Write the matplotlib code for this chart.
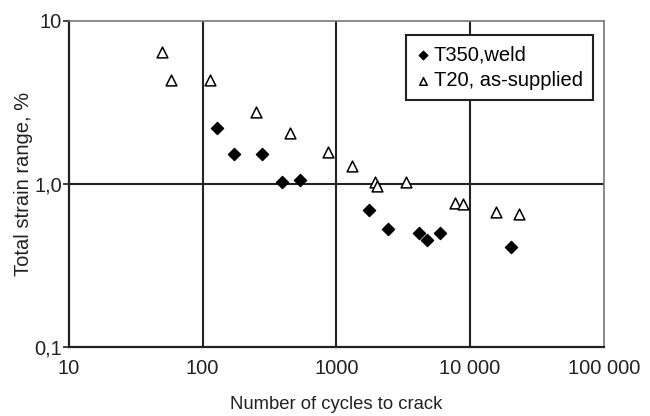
import numpy as np
import matplotlib
matplotlib.use("Agg")
import matplotlib.pyplot as plt
from matplotlib.ticker import FixedLocator, NullLocator

plt.rcParams['font.family'] = ['Liberation Sans', 'DejaVu Sans']

# T350, weld (filled diamonds)
weld_n = [128, 172, 279, 392, 531, 1760, 2440, 4150, 4790, 5960, 20100]
weld_e = [2.21, 1.52, 1.52, 1.03, 1.05, 0.69, 0.53, 0.50, 0.45, 0.50, 0.41]

# T20, as-supplied (open triangles)
sup_n = [49.6, 58, 113, 249, 448, 861, 1315, 1950, 2000, 3310, 7710, 8850, 15500, 23200]
sup_e = [6.4, 4.33, 4.33, 2.77, 2.04, 1.57, 1.29, 1.02, 0.97, 1.02, 0.76, 0.75, 0.67, 0.65]

xticks = [10, 100, 1000, 10000, 100000]
xlabels = ['10', '100', '1000', '10 000', '100 000']
yticks = [0.1, 1.0, 10]
ylabels = ['0,1', '1,0', '10']

fig = plt.figure(figsize=(6.5, 4.16), dpi=100)
ax = fig.add_axes([0.106, 0.167, 0.823, 0.783])

ax.set_xscale('log')
ax.set_yscale('log')
ax.set_xlim(10, 100000)
ax.set_ylim(0.1, 10)

# grid lines at each decade
for xv in xticks[1:-1]:
    ax.axvline(xv, color='#222222', lw=1.5, zorder=1)
ax.axhline(1.0, color='#222222', lw=1.5, zorder=1)

ax.scatter(weld_n, weld_e, marker='D', s=38, c='black', zorder=3, label='T350,weld')
ax.scatter(sup_n, sup_e, marker='^', s=60, facecolors='white', edgecolors='black',
           linewidths=1.1, zorder=3, label='T20, as-supplied')

ax.xaxis.set_major_locator(FixedLocator(xticks))
ax.yaxis.set_major_locator(FixedLocator(yticks))
ax.xaxis.set_minor_locator(NullLocator())
ax.yaxis.set_minor_locator(NullLocator())
ax.set_xticklabels(xlabels)
ax.set_yticklabels(ylabels)
ax.tick_params(axis='x', length=0, pad=9, labelsize=14.5, colors='#222222')
ax.tick_params(axis='y', length=4, width=1.2, pad=1, labelsize=14.5, colors='#222222')

for s in ['left', 'bottom']:
    ax.spines[s].set_color('#222222')
    ax.spines[s].set_linewidth(1.6)
for s in ['top', 'right']:
    ax.spines[s].set_color('#777777')
    ax.spines[s].set_linewidth(1.2)

ax.set_xlabel('Number of cycles to crack', fontsize=13.3, color='#222222', labelpad=13)
ax.set_ylabel('Total strain range, %', fontsize=14.5, color='#222222', labelpad=1)

leg = ax.legend(loc='upper right', bbox_to_anchor=(0.979, 0.956), fontsize=14.5,
                frameon=True, fancybox=False, handletextpad=0.15, handlelength=0.7,
                borderpad=0.5, labelspacing=0.35, markerscale=0.7, borderaxespad=0)
leg.get_frame().set_edgecolor('#222222')
leg.get_frame().set_linewidth(1.5)
leg.get_frame().set_alpha(1)

fig.savefig('out.png', dpi=100)
